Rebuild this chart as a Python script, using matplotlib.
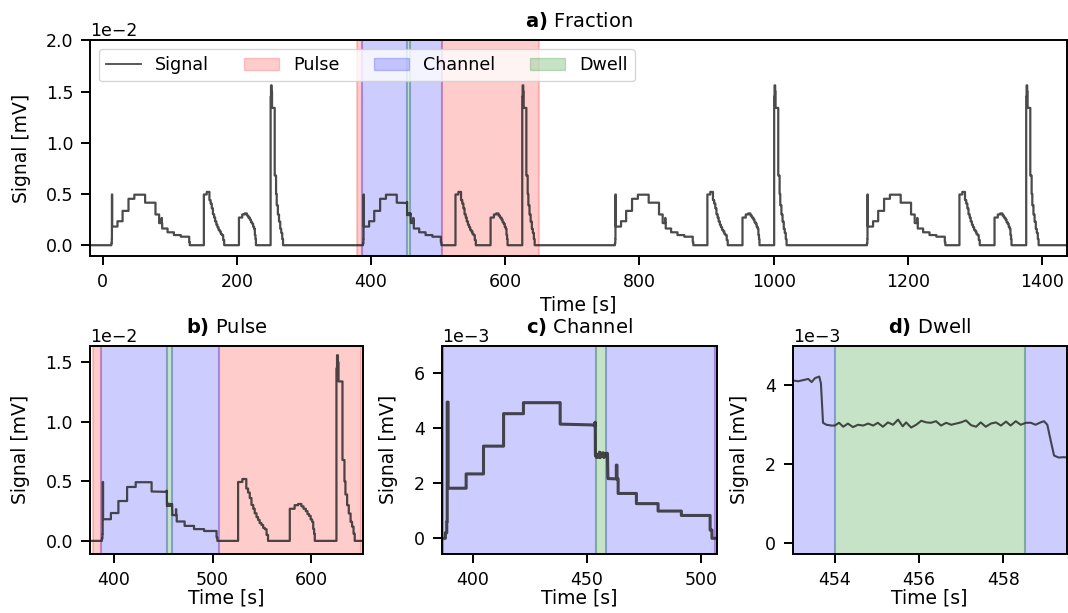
import matplotlib.pyplot as plt
import numpy as np
from matplotlib.patches import Patch
from matplotlib.lines import Line2D

# one cycle of the staircase signal: change times relative to cycle start [s] and level after it [1e-3 mV]
cycle_t = [-0.6, 0.0, 0.2, 0.6, 8.5, 16.1, 24.9, 33.6, 49.7, 65.1, 70.55, 74.3, 74.6, 75.1, 83.1,
           92.6, 102.8, 115.4, 116.2,
           137.2, 141.5, 145.5, 147.3, 149.0, 150.7, 152.5, 154.0, 155.8, 157.4, 159.0, 160.8,
           162.5, 164.2, 166.0, 167.5,
           189.5, 194.4, 197.9, 201.3, 203.4, 205.7, 207.4, 209.0, 210.6, 212.1, 213.2, 214.1, 214.8,
           236.7, 237.3, 238.2, 238.8, 242.8, 244.8, 245.8, 247.5, 249.2, 251.0, 252.5, 254.0, 255.2]
cycle_y = [0.2, 0.6, 4.95, 1.82, 2.34, 3.35, 4.53, 4.93, 4.15, 3.0, 2.16, 2.66, 2.16, 1.63, 1.26,
           0.99, 0.83, 0.3, 0.0,
           4.95, 5.2, 4.4, 4.06, 3.6, 3.02, 2.7, 2.32, 2.0, 1.76, 1.5, 1.34,
           1.1, 0.98, 0.5, 0.0,
           2.7, 3.0, 3.1, 2.9, 2.7, 2.5, 2.25, 2.1, 1.8, 1.6, 1.0, 0.6, 0.0,
           14.5, 15.6, 15.0, 13.4, 6.8, 5.0, 3.9, 3.0, 2.3, 1.6, 1.2, 0.6, 0.0]
cycle_start = [13.6, 388.6, 764.0, 1139.6]
t_begin, t_end = -18.5, 1437.0

# close look at the dwell window of the second cycle [s], [1e-3 mV]
dwell_t = [453.02, 453.13, 453.25, 453.37, 453.45, 453.53, 453.63, 453.67, 453.72, 453.80,
           453.92, 454.00, 454.10, 454.20, 454.31, 454.43, 454.55, 454.67, 454.79, 454.91,
           455.02, 455.14, 455.26, 455.38, 455.50, 455.61, 455.69, 455.81, 455.93, 456.05,
           456.17, 456.28, 456.40, 456.52, 456.64, 456.76, 456.87, 456.99, 457.11, 457.23,
           457.35, 457.46, 457.58, 457.70, 457.82, 457.94, 458.06, 458.17, 458.29, 458.41,
           458.53, 458.65, 458.76, 458.88, 458.96, 459.04, 459.12, 459.20, 459.31, 459.43, 459.50]
dwell_y = [4.12, 4.10, 4.13, 4.16, 4.08, 4.18, 4.22, 4.05, 3.05, 3.00,
           2.98, 2.98, 3.05, 2.95, 3.03, 2.94, 3.00, 2.98, 3.03, 2.98,
           3.05, 2.95, 3.06, 3.00, 3.13, 2.96, 3.06, 2.93, 3.00, 3.10,
           3.06, 3.05, 3.09, 2.98, 3.05, 3.00, 3.03, 3.06, 3.11, 2.99,
           2.95, 3.06, 2.95, 3.03, 3.06, 2.98, 3.08, 2.98, 3.09, 3.00,
           3.05, 3.05, 3.00, 3.06, 3.09, 3.00, 2.60, 2.22, 2.17, 2.18, 2.17]

pulse = (379.0, 650.0)
channel = (386.8, 506.2)
dwell = (454.0, 458.5)

# build the trace
ts, ys = [t_begin], [0.0]
for s in cycle_start:
    for t, y in zip(cycle_t, cycle_y):
        ts += [s + t, s + t]
        ys += [ys[-1], y]
ts.append(t_end)
ys.append(ys[-1])
ts = np.array(ts)
ys = np.array(ys) * 1e-3
keep = (ts < dwell_t[0]) | (ts > dwell_t[-1])
ts, ys = ts[keep], ys[keep]
i = np.searchsorted(ts, dwell_t[0])
ts = np.insert(ts, i, dwell_t)
ys = np.insert(ys, i, np.array(dwell_y) * 1e-3)

plt.rcParams['xtick.labelsize'] = 12.5
plt.rcParams['ytick.labelsize'] = 12.5
plt.rcParams['axes.labelsize'] = 13.5
plt.rcParams['axes.titlesize'] = 14
plt.rcParams['axes.linewidth'] = 1.4
for k in ['xtick', 'ytick']:
    plt.rcParams[k + '.major.size'] = 6.2
    plt.rcParams[k + '.major.width'] = 1.4
    plt.rcParams[k + '.major.pad'] = 6.0

fig = plt.figure(figsize=(10.68, 6.13), dpi=100)
ax_a = fig.add_axes([0.0845, 0.5816, 0.9145, 0.3527])
ax_b = fig.add_axes([0.0843, 0.0963, 0.2559, 0.3397])
ax_c = fig.add_axes([0.4136, 0.0963, 0.2575, 0.3397])
ax_d = fig.add_axes([0.7422, 0.0963, 0.2566, 0.3397])

red, blue, green = ('red', 0.2), ('blue', 0.2), ('green', 0.22)


def shade(ax):
    kw = dict(lw=1.5)
    ax.axvspan(pulse[0], channel[0], color=red[0], alpha=red[1], **kw)
    ax.axvspan(channel[1], pulse[1], color=red[0], alpha=red[1], **kw)
    ax.axvspan(channel[0], dwell[0], color=blue[0], alpha=blue[1], **kw)
    ax.axvspan(dwell[1], channel[1], color=blue[0], alpha=blue[1], **kw)
    ax.axvspan(dwell[0], dwell[1], color=green[0], alpha=green[1], **kw)


line_color = '#2b2b2b'
for ax, lw in [(ax_a, 1.6), (ax_b, 1.6), (ax_c, 2.2), (ax_d, 1.5)]:
    shade(ax)
    ax.plot(ts, ys, color=line_color, lw=lw, alpha=0.85)
    ax.set_xlabel('Time [s]', labelpad=0)
    ax.set_ylabel('Signal [mV]', labelpad=11)
    ax.ticklabel_format(axis='y', style='sci', scilimits=(0, 0))

ax_a.set_xlim(t_begin, t_end)
ax_a.set_ylim(-0.0011, 0.02)
ax_a.set_xticks(range(0, 1401, 200))
ax_a.set_yticks([0, 0.005, 0.01, 0.015, 0.02])
ax_a.set_title(r'$\bf{a)}$ Fraction', pad=9.5)
ax_a.xaxis.labelpad = 3

ax_b.set_xlim(376, 652.5)
ax_b.set_ylim(-0.0011, 0.0164)
ax_b.set_xticks([400, 500, 600])
ax_b.set_yticks([0, 0.005, 0.01, 0.015])
ax_b.set_title(r'$\bf{b)}$ Pulse', pad=9.5)

ax_c.set_xlim(386.4, 506.9)
ax_c.set_ylim(-0.00057, 0.007)
ax_c.set_xticks([400, 450, 500])
ax_c.set_yticks([0, 0.002, 0.004, 0.006])
ax_c.set_title(r'$\bf{c)}$ Channel', pad=9.5)

ax_d.set_xlim(453.0, 459.5)
ax_d.set_ylim(-0.00027, 0.005)
ax_d.set_xticks([454, 456, 458])
ax_d.set_yticks([0, 0.002, 0.004])
ax_d.set_title(r'$\bf{d)}$ Dwell', pad=9.5)

handles = [Line2D([], [], color=line_color, lw=1.3, alpha=0.85),
           Patch(color=red[0], alpha=red[1]),
           Patch(color=blue[0], alpha=blue[1]),
           Patch(color=green[0], alpha=green[1])]
ax_a.legend(handles, ['Signal', 'Pulse', 'Channel', 'Dwell'], loc='upper left', ncol=4,
            fontsize=12.6)

fig.savefig('out.png', dpi=100)
